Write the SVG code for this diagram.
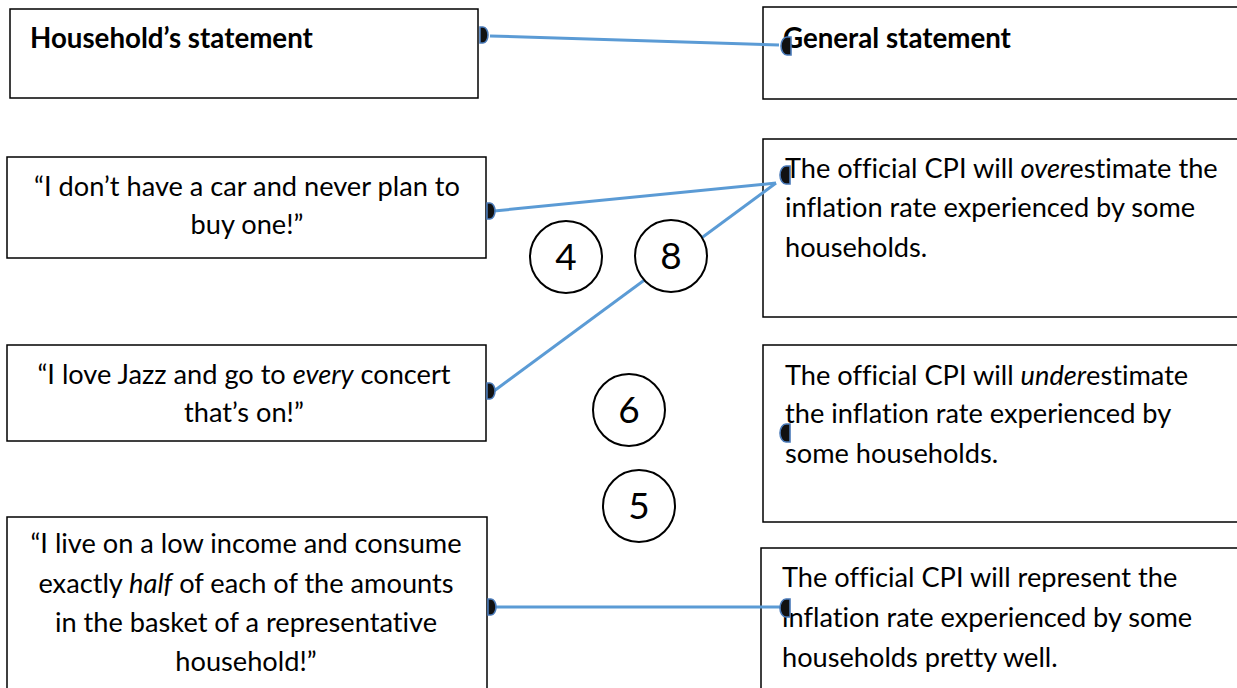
<svg xmlns="http://www.w3.org/2000/svg" width="1237" height="688" viewBox="0 0 1237 688">
<style>
.box{fill:#fff;stroke:#000;stroke-width:1.5}
.t{font-family:Lato,"Liberation Sans",sans-serif;font-size:27.2px;fill:#000;font-variant-ligatures:none}
.c{text-anchor:middle}
.b{font-weight:bold;font-size:27.7px}
.circ{fill:#fff;stroke:#000;stroke-width:2}
.num{font-family:Lato,"Liberation Sans",sans-serif;font-size:37px;fill:#000;text-anchor:middle}
.con{stroke:#5b9bd5;stroke-width:3;fill:none}
.h{fill:#111;stroke:#4a7ab8;stroke-width:1.6}
</style>
<defs>
<path id="hL" class="h" d="M0,-8 L3,-8 A5,8 0 0 1 3,8 L0,8 Z"/>
<path id="hR" class="h" d="M11,-9 L7,-9 A6,9 0 0 0 7,9 L11,9 Z"/>
</defs>
<rect width="1237" height="688" fill="#fff"/>
<g id="n-household-head">
<rect class="box" x="10" y="9" width="468" height="89"/>
<text class="t b" x="30" y="48">Household’s statement</text>
</g>
<g id="n-general-head">
<rect class="box" x="763" y="7" width="480" height="92"/>
<text class="t b" x="783" y="48">General statement</text>
</g>
<g id="n-car">
<rect class="box" x="7" y="157" width="479" height="101"/>
<text class="t c" x="247" y="196">“I don’t have a car and never plan to</text>
<text class="t c" x="247" y="234">buy one!”</text>
</g>
<g id="n-jazz">
<rect class="box" x="7" y="345" width="479" height="96"/>
<text class="t c" x="244" y="384">“I love Jazz and go to <tspan font-style="italic">every</tspan> concert</text>
<text class="t c" x="244" y="422">that’s on!”</text>
</g>
<g id="n-low">
<rect class="box" x="7" y="517" width="480" height="181"/>
<text class="t c" x="246" y="553">“I live on a low income and consume</text>
<text class="t c" x="246" y="593">exactly <tspan font-style="italic">half</tspan> of each of the amounts</text>
<text class="t c" x="246" y="632">in the basket of a representative</text>
<text class="t c" x="246" y="671">household!”</text>
</g>
<g id="n-over">
<rect class="box" x="763" y="139" width="480" height="178"/>
<text class="t" x="785" y="178">The official CPI will <tspan font-style="italic">over</tspan>estimate the</text>
<text class="t" x="785" y="217">inflation rate experienced by some</text>
<text class="t" x="785" y="257">households.</text>
</g>
<g id="n-under">
<rect class="box" x="763" y="345" width="480" height="177"/>
<text class="t" x="785" y="385">The official CPI will <tspan font-style="italic">under</tspan>estimate</text>
<text class="t" x="785" y="423">the inflation rate experienced by</text>
<text class="t" x="785" y="463">some households.</text>
</g>
<g id="n-represent">
<rect class="box" x="761" y="548" width="482" height="150"/>
<text class="t" x="782" y="587">The official CPI will represent the</text>
<text class="t" x="782" y="627">inflation rate experienced by some</text>
<text class="t" x="782" y="667">households pretty well.</text>
</g>
<g id="connectors">
<line class="con" x1="490" y1="36" x2="779" y2="45"/>
<line class="con" x1="494" y1="211" x2="776" y2="183"/>
<line class="con" x1="494" y1="391" x2="776" y2="183"/>
<line class="con" x1="494" y1="607" x2="780" y2="607"/>
<use href="#hL" x="480" y="35"/>
<use href="#hL" x="487" y="211"/>
<use href="#hL" x="487" y="391"/>
<use href="#hL" x="488" y="607"/>
<use href="#hR" x="780" y="46"/>
<use href="#hR" x="779" y="175"/>
<use href="#hR" x="779" y="433"/>
<use href="#hR" x="779" y="608"/>
</g>
<g id="n-c4">
<circle class="circ" cx="566" cy="257" r="36"/>
<text class="num" x="566" y="270">4</text>
</g>
<g id="n-c8">
<circle class="circ" cx="671" cy="256" r="36"/>
<text class="num" x="671" y="269">8</text>
</g>
<g id="n-c6">
<circle class="circ" cx="629" cy="410" r="36"/>
<text class="num" x="629" y="423">6</text>
</g>
<g id="n-c5">
<circle class="circ" cx="639" cy="506" r="36"/>
<text class="num" x="639" y="519">5</text>
</g>
</svg>
